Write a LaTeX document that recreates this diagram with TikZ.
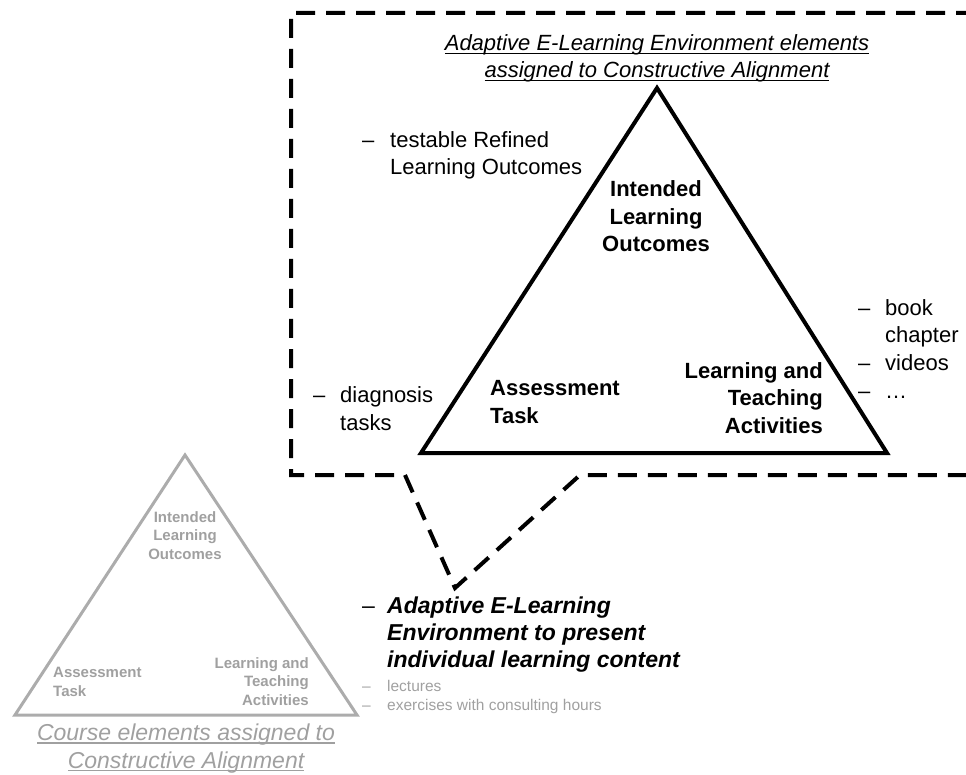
\documentclass[tikz,border=0pt]{standalone}
\usepackage{fontspec}
\setmainfont{Liberation Sans}
\usepackage{xcolor}
\usepackage{tikz}
\definecolor{palegrey}{RGB}{172,172,172}
\definecolor{textgrey}{RGB}{160,160,160}
\tikzset{
  txt/.style = {inner sep=0pt, font=\fontsize{22}{27.5}\selectfont},
  txtb/.style = {txt, font=\fontsize{22}{27.5}\selectfont\bfseries},
  sml/.style = {inner sep=0pt, text=textgrey, font=\fontsize{15}{18.5}\selectfont\bfseries},
  callout/.style = {line width=4pt, dash pattern=on 19pt off 11pt},
  tri/.style = {line width=4pt},
  trigrey/.style = {line width=3pt, draw=palegrey}
}
\newcommand{\itm}[1][26pt]{\makebox[#1][l]{\normalfont--}}
\newcommand{\ind}[1][26pt]{\hspace*{#1}}
% underline at a fixed depth below the baseline
\newsavebox{\ulbox}
\newcommand{\uln}[1]{\sbox{\ulbox}{#1}\rlap{\rule[-3pt]{\wd\ulbox}{1.3pt}}\usebox{\ulbox}}
\begin{document}
\begin{tikzpicture}[x=1pt,y=-1pt]
  \useasboundingbox (0,0) rectangle (966,775);
  % dashed frame with its tail
  \coordinate (tip) at (455,588);
  \draw[callout] (975,13) -- (291,13) -- (291,475) -- (405,475) -- (tip) -- (580,475) -- (975,475);
  % black triangle
  \coordinate (top) at (657,88);
  \coordinate (bl) at (421,453);
  \coordinate (br) at (887,453);
  \draw[tri] (top) -- (bl) -- (br) -- cycle;
  % (the base of a node sits on its last line)
  \node[txt, font=\fontsize{22}{27}\selectfont\itshape, align=center, anchor=base] (head) at (657,78)
    {\uln{Adaptive E-Learning Environment elements}\\\uln{assigned to Constructive Alignment}};
  \node[txt, align=left, anchor=base west] (refined) at (362,175)
    {\itm[28pt]testable Refined\\\ind[28pt]Learning Outcomes};
  \node[txtb, align=center, anchor=base] (ilo) at (656,252) {Intended\\Learning\\Outcomes};
  \node[txtb, align=left, anchor=base west] (at) at (490,423) {Assessment\\Task};
  \node[txtb, align=right, anchor=base east] (tla) at (823,433) {Learning and\\Teaching\\Activities};
  \node[txt, align=left, anchor=base west] (diag) at (313,430) {\itm[27pt]diagnosis\\\ind[27pt]tasks};
  \node[txt, align=left, anchor=base west] (media) at (858,398)
    {\itm[27pt]book\\\ind[27pt]chapter\\\itm[27pt]videos\\\itm[27pt]\dots};
  % grey triangle
  \coordinate (gtop) at (185,455);
  \coordinate (gbl) at (15,715);
  \coordinate (gbr) at (357,715);
  \draw[trigrey] (gtop) -- (gbl) -- (gbr) -- cycle;
  \node[sml, align=center, anchor=base] (gilo) at (185,559) {Intended\\Learning\\Outcomes};
  \node[sml, align=left, anchor=base west] (gat) at (53,696) {Assessment\\Task};
  \node[sml, align=right, anchor=base east] (gtla) at (309,705) {Learning and\\Teaching\\Activities};
  \node[txt, text=textgrey, font=\fontsize{23}{27.5}\selectfont\itshape, align=center, anchor=base] (course) at (186,768)
    {\uln{Course elements assigned to}\\\uln{Constructive Alignment}};
  % course elements list
  \node[txt, font=\fontsize{23}{27}\selectfont\bfseries\itshape, align=left, anchor=base west] (adapt) at (362,667)
    {\itm[25pt]Adaptive E-Learning\\\ind[25pt]Environment to present\\\ind[25pt]individual learning content};
  \node[sml, font=\fontsize{15.5}{19}\selectfont, align=left, anchor=base west] (lect) at (362,710)
    {\itm[25pt]lectures\\\itm[25pt]exercises with consulting hours};
\end{tikzpicture}
\end{document}
